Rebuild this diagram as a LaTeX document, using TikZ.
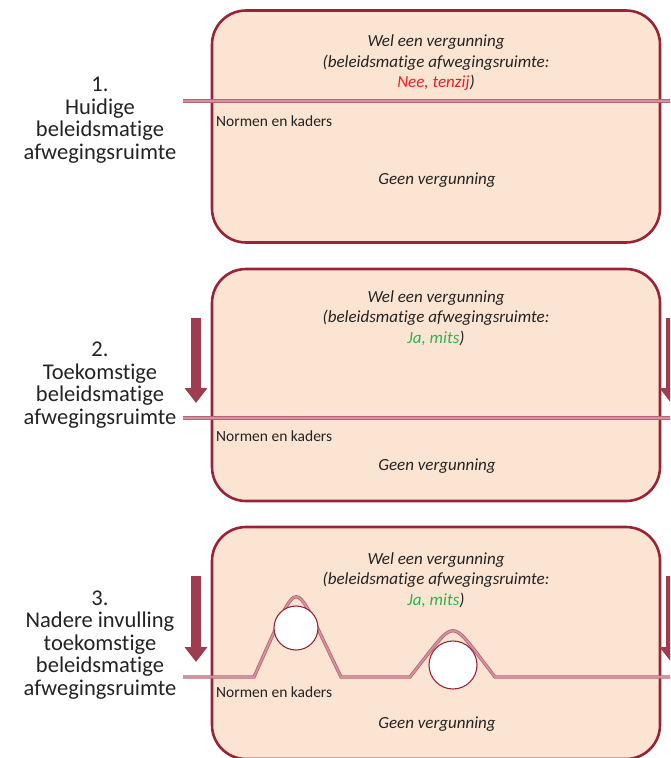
\documentclass[tikz,border=0pt]{standalone}
\usepackage{fontspec}
\setmainfont{Carlito}[Ligatures={NoCommon}]
\usetikzlibrary{arrows.meta}

\definecolor{rand}{RGB}{155,35,55}
\definecolor{vulling}{RGB}{252,228,210}
\definecolor{lijn}{RGB}{212,145,158}
\definecolor{lijnrand}{RGB}{180,100,118}
\definecolor{pijl}{RGB}{160,60,80}
\definecolor{nee}{RGB}{240,30,35}
\definecolor{ja}{RGB}{40,180,80}
\definecolor{tekst}{RGB}{35,35,35}

\begin{document}
\begin{tikzpicture}[x=1pt,y=-1pt]
  \tikzstyle{kader}=[draw=rand,fill=vulling,line width=2.6pt,rounded corners=34pt,minimum width=448pt,minimum height=232pt,inner sep=0pt]
  \tikzstyle{label}=[align=center,text=tekst,font=\fontsize{22.5}{22.5}\selectfont]
  \tikzstyle{wel}=[align=center,text=tekst,font=\fontsize{17}{20.5}\selectfont\itshape]
  \tikzstyle{norm}=[anchor=west,text=tekst,inner sep=0pt,font=\fontsize{15.5}{18}\selectfont]
  \tikzstyle{grens}=[draw=lijnrand,line width=0.8pt,double=lijn,double distance=1.7pt]
  \tikzstyle{pijlstijl}=[draw=pijl,line width=10pt,-{Triangle[width=22pt,length=15pt]}]
  \tikzstyle{gat}=[circle,draw=rand,fill=white,line width=1.1pt,inner sep=0pt]

  \useasboundingbox (0,0) rectangle (670,758);
  \clip (0,0) rectangle (670,758);

  % Define the boxes
  \foreach \i/\y in {1/126.5, 2/385, 3/643} {
    \node[kader] (box\i) at (436,\y) {};
  }

  % Define the left labels
  \node[label] (lab1) at (100,120) {1.\\Huidige\\beleidsmatige\\afwegingsruimte};
  \node[label] (lab2) at (100,385) {2.\\Toekomstige\\beleidsmatige\\afwegingsruimte};
  \node[label] (lab3) at (100,645) {3.\\Nadere invulling\\toekomstige\\beleidsmatige\\afwegingsruimte};

  % Draw the arrows on both sides
  \foreach \i/\a/\b in {2/318/403, 3/576/662} {
    \coordinate (pl\i a) at (196,\a);
    \coordinate (pl\i b) at (196,\b);
    \coordinate (pr\i a) at (671,\a);
    \coordinate (pr\i b) at (671,\b);
    \draw[pijlstijl] (pl\i a) -- (pl\i b);
    \draw[pijlstijl] (pr\i a) -- (pr\i b);
  }

  % Draw the lines of norms and frames
  \coordinate (l1a) at (183,101);
  \coordinate (l1b) at (672,101);
  \draw[grens] (l1a) -- (l1b);
  \coordinate (l2a) at (183,418);
  \coordinate (l2b) at (672,418);
  \draw[grens] (l2a) -- (l2b);
  \coordinate (l3a) at (183,677);
  \coordinate (l3b) at (672,677);
  \draw[grens] (l3a) -- (254,677) -- (271.4,638) .. controls (296,583) .. (322.3,638) -- (341,677)
    -- (410,677) -- (425.6,657) .. controls (453,622) .. (479.7,657) -- (495,677) -- (l3b);

  % Define the holes
  \node[gat,minimum size=44pt] (gat1) at (296,628) {};
  \node[gat,minimum size=48pt] (gat2) at (453,665) {};

  % Define the texts in the boxes
  \node[wel] (wel1) at (436,63) {Wel een vergunning\\(beleidsmatige afwegingsruimte:\\\textcolor{nee}{Nee, tenzij})};
  \node[wel] (wel2) at (436,318) {Wel een vergunning\\(beleidsmatige afwegingsruimte:\\\textcolor{ja}{Ja, mits})};
  \node[wel] (wel3) at (436,580) {Wel een vergunning\\(beleidsmatige afwegingsruimte:\\\textcolor{ja}{Ja, mits})};
  \foreach \i/\y in {1/121, 2/436, 3/692} {
    \node[norm] (norm\i) at (216,\y) {Normen en kaders};
  }
  \foreach \i/\y in {1/180, 2/466, 3/724} {
    \node[wel] (geen\i) at (437,\y) {Geen vergunning};
  }
\end{tikzpicture}
\end{document}
